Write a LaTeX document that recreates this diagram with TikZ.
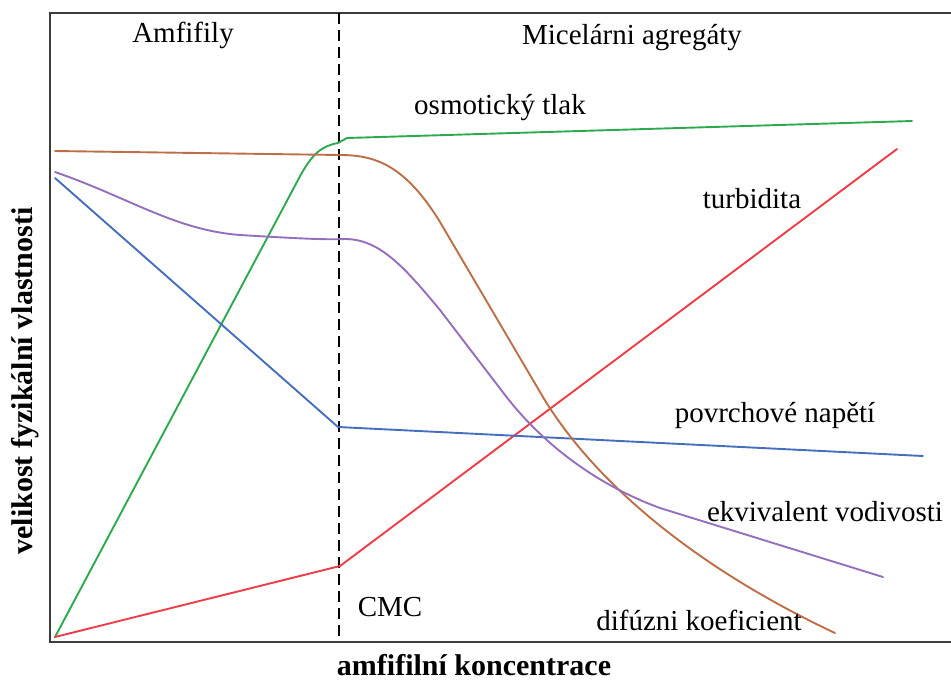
\documentclass[tikz,border=0pt]{standalone}
\usepackage{fontspec}
\setmainfont{Liberation Serif}
\definecolor{cgreen}{RGB}{45,170,80}
\definecolor{cred}{RGB}{240,60,70}
\definecolor{cblue}{RGB}{70,110,190}
\definecolor{cbrown}{RGB}{190,110,70}
\definecolor{cpurple}{RGB}{150,110,190}
\definecolor{frame}{RGB}{60,60,60}
\tikzset{
  lbl/.style={inner sep=0pt, font=\fontsize{29}{34}\selectfont},
  blbl/.style={inner sep=0pt, font=\fontsize{30}{35}\selectfont\bfseries},
  curve/.style={line width=1.9pt, line join=round, line cap=round},
}
\begin{document}
\begin{tikzpicture}[x=1pt,y=-1pt]
\useasboundingbox (0,0) rectangle (951,681);
% frame
\draw[frame, line width=2.4pt] (951,13) -- (50,13) -- (50,642) -- (951,642);
% CMC dashed line
\draw[black, line width=1.8pt, dash pattern=on 11pt off 6pt] (339,13) -- (339,642);
% curves
\draw[curve, cgreen] (55,637) -- (298,180) .. controls (312,153) and (322,146) .. (338,143) -- (347,138) -- (912,121);
\draw[curve, cred] (55,637) -- (340,566) -- (897,149);
\draw[curve, cblue] (55,178) -- (338,427) -- (923,456);
\draw[curve, cbrown] (55,151) -- (340,155)
  .. controls (375,155) and (405,165) .. (440,222)
  -- (540,392)
  .. controls (585,470) and (680,560) .. (835,633);
\draw[curve, cpurple] (55,172)
  .. controls (130,198) and (175,230) .. (240,235)
  .. controls (290,238) and (325,240) .. (345,239)
  .. controls (380,239) and (405,268) .. (440,310)
  -- (505,395)
  .. controls (545,447) and (600,486) .. (660,508)
  -- (883,577);
% labels
\node[lbl] (amf) at (183,35) {Amfifily};
\node[lbl] (mic) at (632,38) {Micelárni agregáty};
\node[lbl] (osm) at (500,108) {osmotický tlak};
\node[lbl] (tur) at (752,199) {turbidita};
\node[lbl] (pov) at (775,415) {povrchové napětí};
\node[lbl] (ekv) at (825,512) {ekvivalent vodivosti};
\node[lbl] (cmc) at (390,607) {CMC};
\node[lbl] (dif) at (699,620) {difúzni koeficient};
\node[blbl] (xl) at (474,665) {amfifilní koncentrace};
\node[blbl, rotate=90] (yl) at (25,381) {velikost fyzikální vlastnosti};
\end{tikzpicture}
\end{document}
